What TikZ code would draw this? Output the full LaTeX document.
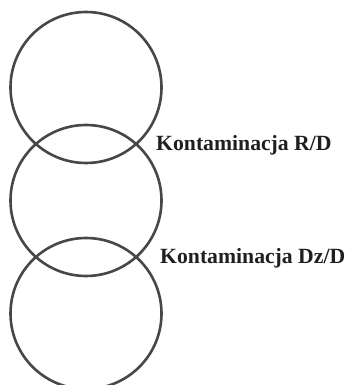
\documentclass[tikz,border=0pt]{standalone}
\usepackage{fontspec}
\setmainfont{Liberation Serif}
\begin{document}
\begin{tikzpicture}[x=1pt,y=1pt,
  ring/.style={circle,draw=black!72,line width=2.6pt,minimum size=151pt,inner sep=0pt},
  lab/.style={anchor=base west,inner sep=0pt,text=black!88,font=\fontsize{21.7}{24}\selectfont\bfseries}]
\useasboundingbox (0,0) rectangle (346,385);
\node[ring] (c1) at (86,297.5) {};
\node[ring] (c2) at (86,184.5) {};
\node[ring] (c3) at (86,71.5) {};
\node[lab] (l1) at (156,234) {Kontaminacja R/D};
\node[lab] (l2) at (160,121.5) {Kontaminacja Dz/D};
\end{tikzpicture}
\end{document}
